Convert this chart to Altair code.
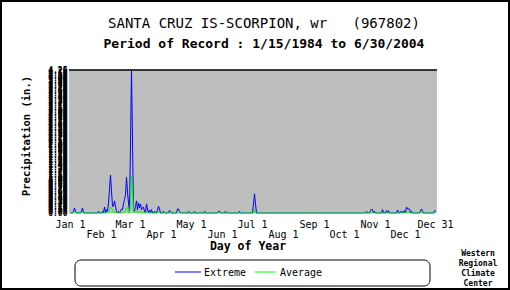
import altair as alt
import pandas as pd

# ---- data (day index 0 = Jan 1, leap-year calendar) ----
ext_days = [3, 4, 5, 11, 12, 28, 32, 34, 36, 37, 38, 39, 40, 41, 42, 43, 44, 45, 46, 48,
            50, 51, 52, 53, 54, 55, 56, 57, 58, 59, 60, 61, 62, 63, 64, 65, 66, 67, 68, 69,
            70, 71, 72, 73, 74, 76, 77, 79, 81, 84, 87, 88, 89, 93, 99, 100, 107, 108, 109,
            118, 124, 134, 148, 149, 155, 169, 183, 184, 185, 296, 300, 301, 302, 304, 312,
            316, 318, 327, 330, 332, 334, 336, 337, 338, 339, 341, 350, 351, 352, 364, 365]
ext_vals = [0.05, 0.15, 0.05, 0.05, 0.15, 0.05, 0.05, 0.18, 0.10, 0.05, 0.30, 0.71, 1.13, 0.65,
            0.20, 0.20, 0.36, 0.20, 0.05, 0.05, 0.05, 0.12, 0.10, 0.27, 0.40, 0.54, 1.07, 0.62,
            0.30, 0.05, 2.10, 4.25, 2.14, 0.05, 0.06, 0.20, 0.36, 0.10, 0.30, 0.15, 0.27, 0.10,
            0.15, 0.18, 0.05, 0.27, 0.12, 0.09, 0.10, 0.05, 0.10, 0.20, 0.12, 0.05, 0.08, 0.05,
            0.12, 0.12, 0.05, 0.05, 0.05, 0.05, 0.05, 0.05, 0.05, 0.05, 0.27, 0.57, 0.27, 0.05,
            0.07, 0.12, 0.09, 0.05, 0.10, 0.07, 0.07, 0.09, 0.05, 0.05, 0.07, 0.18, 0.12, 0.12,
            0.12, 0.05, 0.07, 0.12, 0.05, 0.07, 0.05]
avg_days = [4, 12, 39, 40, 41, 42, 44, 55, 56, 57, 60, 61, 62, 63, 65, 66, 68, 70, 76, 88, 184, 336, 338]
avg_vals = [0.03, 0.03, 0.10, 0.18, 0.15, 0.08, 0.05, 0.12, 0.18, 0.15, 0.30, 1.10, 0.60, 0.05,
            0.05, 0.08, 0.05, 0.05, 0.05, 0.05, 0.10, 0.03, 0.03]

tick_days = [0, 31, 60, 91, 121, 152, 182, 213, 244, 274, 305, 335, 365]
tick_labels = ["Jan 1", "Feb 1", "Mar 1", "Apr 1", "May 1", "Jun 1", "Jul 1",
               "Aug 1", "Sep 1", "Oct 1", "Nov 1", "Dec 1", "Dec 31"]
y_ticks = [round(i * 0.05, 2) for i in range(86)]

NB = "\u00a0"
title_text = "SANTA CRUZ IS-SCORPION, wr" + NB * 3 + "(967802)"
subtitle_text = "Period of Record : 1/15/1984 to 6/30/2004"

# ---- build tables ----
ndays = 366
ext_full = [0.0] * ndays
for d, v in zip(ext_days, ext_vals):
    ext_full[d] = v
avg_full = [0.0] * ndays
for d, v in zip(avg_days, avg_vals):
    avg_full[d] = v
df = pd.DataFrame({"day": list(range(ndays)), "Extreme": ext_full, "Average": avg_full})
ticks_df = pd.DataFrame({"day": tick_days, "label": tick_labels,
                         "row": [i % 2 for i in range(len(tick_days))]})

W, H = 368, 143
L, T = 69, 70
MONO = "DejaVu Sans Mono"

xs = alt.Scale(domain=[-1.5, 366.5], nice=False, zero=False)
ys = alt.Scale(domain=[0, 4.25], nice=False)

xenc = alt.X("day:Q", scale=xs, axis=None)
yaxis = alt.Axis(values=y_ticks, format=".2f", labelOverlap=False, ticks=False, domain=False,
                 grid=False, labelFont=MONO, labelFontSize=8, labelFontWeight="bold",
                 labelColor="black", labelPadding=2, title=None)

ext_line = alt.Chart(df).mark_line(color="#0000ff", strokeWidth=1).encode(
    x=xenc, y=alt.Y("Extreme:Q", scale=ys, axis=yaxis))
avg_line = alt.Chart(df).mark_line(color="#00ff00", strokeWidth=1).encode(
    x=xenc, y=alt.Y("Average:Q", scale=ys, axis=yaxis))

top_rule = alt.Chart(df.head(1)).mark_rule(color="black", strokeWidth=1.5).encode(
    x=alt.value(0), x2=alt.value(W), y=alt.value(0))

lab1 = alt.Chart(ticks_df[ticks_df.row == 0]).mark_text(
    font=MONO, fontSize=10, color="black", baseline="middle").encode(
    x=alt.X("day:Q", scale=xs, axis=None), y=alt.value(H + 12), text="label:N")
lab2 = alt.Chart(ticks_df[ticks_df.row == 1]).mark_text(
    font=MONO, fontSize=10, color="black", baseline="middle").encode(
    x=alt.X("day:Q", scale=xs, axis=None), y=alt.value(H + 22), text="label:N")

one = pd.DataFrame({"a": [0]})


def txt(text, x, y, size, weight="normal", angle=0):
    return alt.Chart(one).mark_text(font=MONO, fontSize=size, fontWeight=weight, angle=angle,
                                    color="black", baseline="middle", align="center").encode(
        x=alt.value(x - L), y=alt.value(y - T), text=alt.value(text))


title = txt(title_text, 264, 24, 14)
subtitle = txt(subtitle_text, 264, 44, 13, "bold")
xtitle = txt("Day of Year", 248, 247, 11.5, "bold")
ytitle = txt("Precipitation (in.)", 27, 136, 10.5, "bold", angle=270)

legend_box = alt.Chart(one).mark_rect(fill="white", stroke="black", strokeWidth=1,
                                      cornerRadius=6).encode(
    x=alt.value(75 - L), x2=alt.value(430 - L), y=alt.value(260 - T), y2=alt.value(286 - T))
leg_blue = alt.Chart(one).mark_rule(color="#0000ff", strokeWidth=1).encode(
    x=alt.value(175 - L), x2=alt.value(201 - L), y=alt.value(272 - T))
leg_green = alt.Chart(one).mark_rule(color="#00ff00", strokeWidth=1).encode(
    x=alt.value(255 - L), x2=alt.value(276 - L), y=alt.value(272 - T))
leg_t1 = alt.Chart(one).mark_text(font=MONO, fontSize=10, color="black", align="left",
                                  baseline="middle").encode(
    x=alt.value(204 - L), y=alt.value(273 - T), text=alt.value("Extreme"))
leg_t2 = alt.Chart(one).mark_text(font=MONO, fontSize=10, color="black", align="left",
                                  baseline="middle").encode(
    x=alt.value(280 - L), y=alt.value(273 - T), text=alt.value("Average"))

wr1 = txt("Western", 478, 254, 8, "bold")
wr2 = txt("Regional", 478, 264, 8, "bold")
wr3 = txt("Climate", 478, 274, 8, "bold")
wr4 = txt("Center", 478, 284, 8, "bold")

frame = alt.Chart(one).mark_rect(fill=None, stroke="black", strokeWidth=2).encode(
    x=alt.value(0 - L + 1), x2=alt.value(510 - L - 1), y=alt.value(0 - T + 1), y2=alt.value(290 - T - 1))

chart = alt.layer(
    ext_line, avg_line, top_rule, lab1, lab2, title, subtitle, xtitle, ytitle,
    legend_box, leg_blue, leg_green, leg_t1, leg_t2, wr1, wr2, wr3, wr4, frame
).properties(
    width=W, height=H,
    autosize=alt.AutoSizeParams(type="none"),
    padding={"left": L, "top": T, "right": 510 - L - W, "bottom": 290 - T - H},
    background="white",
).configure_view(fill="#bebebe", stroke=None).configure_axisY(labelOverlap=False)

chart.save("out.html", embed_options={"renderer": "svg", "actions": False})
